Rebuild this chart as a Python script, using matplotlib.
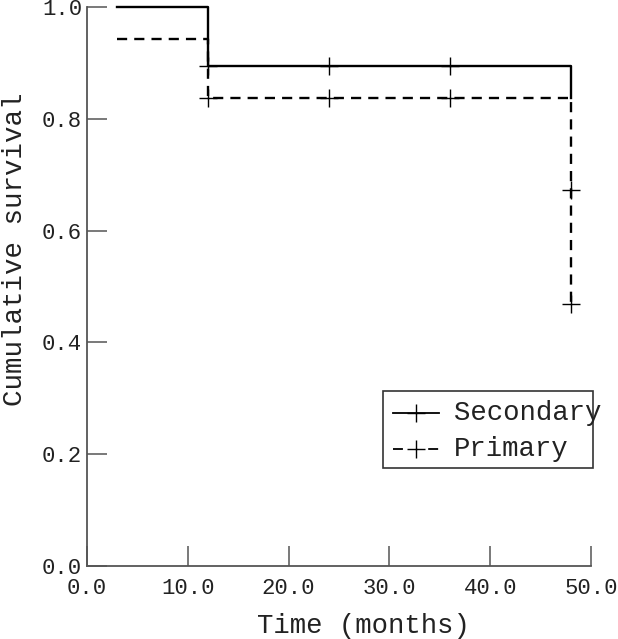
import matplotlib
matplotlib.use("Agg")
import matplotlib.pyplot as plt
from matplotlib.patches import Rectangle
from matplotlib.lines import Line2D

# Data
secondary_times = [3, 12, 48]
secondary_surv = [1.0, 0.894, 0.837]
secondary_cens_t = [12, 24, 36]
secondary_cens_s = [0.894, 0.894, 0.894]

primary_times = [3, 12, 48]
primary_surv = [0.943, 0.837, 0.469]
primary_cens_t = [12, 24, 36, 48, 48]
primary_cens_s = [0.837, 0.837, 0.837, 0.672, 0.469]

labels = ["Secondary", "Primary"]
xticks = [0, 10, 20, 30, 40, 50]
yticks = [0.0, 0.2, 0.4, 0.6, 0.8, 1.0]

plt.rcParams['font.family'] = ['Liberation Mono', 'DejaVu Sans Mono']

fig = plt.figure(figsize=(6.18, 6.39), dpi=100)
ax = fig.add_axes([87/618, 1-566/639, 504/618, 559/639])

lw = 1.7
dash = (0, (4.3, 3.0))
ax.step(secondary_times, secondary_surv, where='post', color='black', lw=lw, clip_on=False)
ax.step(primary_times, primary_surv, where='post', color='black', lw=lw, linestyle=dash,
        clip_on=False)
ax.plot(secondary_cens_t, secondary_cens_s, linestyle='none', marker='+', color='black',
        markersize=13, markeredgewidth=1.0)
ax.plot(primary_cens_t, primary_cens_s, linestyle='none', marker='+', color='black',
        markersize=13, markeredgewidth=1.0)

ax.set_xlim(0, 50)
ax.set_ylim(0, 1.0)
ax.set_xticks(xticks)
ax.set_yticks(yticks)
ax.set_xticklabels([f"{v:.1f}" for v in xticks])
ax.set_yticklabels([f"{v:.1f}" for v in yticks])
for s in ['top', 'right']:
    ax.spines[s].set_visible(False)
for s in ['left', 'bottom']:
    ax.spines[s].set_color('#555555')
    ax.spines[s].set_linewidth(1.3)
ax.tick_params(direction='in', length=14.5, width=1.1, color='#555555',
               labelsize=16, labelcolor='#222222')
ax.tick_params(axis='x', pad=9)
ax.tick_params(axis='y', pad=3.5)

fig.text(363/618, 1-626/639, "Time (months)", ha='center', va='center', fontsize=19.6, color='#222222')
fig.text(2/618, 1-249/639, "Cumulative survival", ha='left', va='center', rotation=90,
         fontsize=19.8, color='#222222')

# Manual legend
x0, x1 = (383-87)/504, (593-87)/504
y0, y1 = (566-468)/559, (566-391)/559
ax.add_patch(Rectangle((x0, y0), x1-x0, y1-y0, transform=ax.transAxes, fill=False,
                       edgecolor='#333333', lw=1.2, clip_on=False))
hx0, hx1 = (393-87)/504, (439-87)/504
tx = (454-87)/504
for lab, ly, ls in [(labels[0], (566-413)/559, '-'), (labels[1], (566-449)/559, (0, (5.5, 14.0)))]:
    ax.add_line(Line2D([hx0, hx1], [ly, ly], transform=ax.transAxes, color='black', lw=1.3,
                       linestyle=ls, clip_on=False))
    ax.add_line(Line2D([(hx0+hx1)/2], [ly], transform=ax.transAxes, color='black', marker='+',
                       markersize=13, markeredgewidth=1.0, linestyle='none', clip_on=False))
    ax.text(tx, ly, lab, transform=ax.transAxes, ha='left', va='center', fontsize=19.7,
            color='#222222', clip_on=False)

fig.savefig("out.png", dpi=100)
